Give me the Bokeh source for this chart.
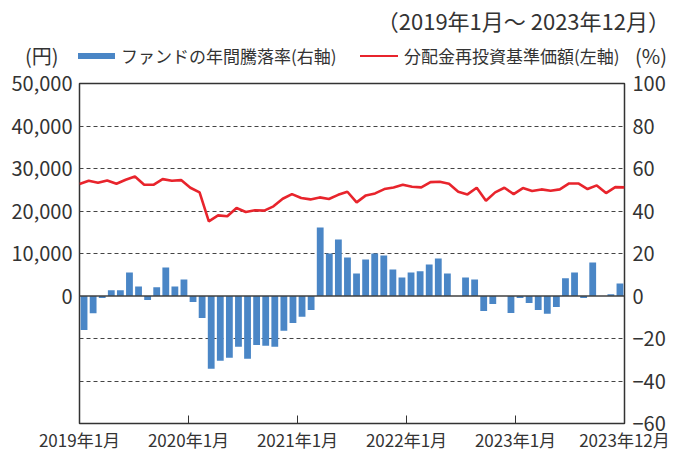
from bokeh.plotting import figure
from bokeh.models import Range1d, LinearAxis, FixedTicker, NumeralTickFormatter, Span, Div
from bokeh.layouts import column
from bokeh.embed import file_html
from bokeh.resources import INLINE

# ---------------- data ----------------
title_text = "（2019年1月～ 2023年12月）"
bar_name = "ファンドの年間騰落率(右軸)"
line_name = "分配金再投資基準価額(左軸)"
left_unit = "(円)"
right_unit = "(%)"

x_tick_pos = [0, 12, 24, 36, 48, 60]
x_tick_labels = ["2019年1月", "2020年1月", "2021年1月", "2022年1月", "2023年1月", "2023年12月"]
left_ticks = [0, 10000, 20000, 30000, 40000, 50000]
right_ticks = [-60, -40, -20, 0, 20, 40, 60, 80, 100]
grid_ticks = [-20000, -10000, 10000, 20000, 30000, 40000]

# monthly annual return of fund (%), Jan 2019 - Dec 2023
annual_return = [-16, -8.1, -0.9, 2.7, 2.7, 11.1, 4.5, -1.9, 4.1, 13.4, 4.5, 7.8,
                 -2.8, -10.3, -34.2, -30.5, -29.1, -23.9, -29.5, -23.0, -23.4, -23.9, -16.4, -12.7,
                 -9.8, -6.6, 32.2, 20.0, 26.6, 18.1, 10.6, 17.2, 20.0, 19.1, 12.5, 8.75,
                 11.1, 11.6, 14.8, 17.7, 10.6, 0, 8.75, 7.8, -7.0, -3.75, 0, -8.0,
                 -0.9, -3.3, -6.6, -8.4, -5.2, 8.3, 11.1, -0.9, 15.8, 0, 0.8, 5.9]

# NAV with dividends reinvested (yen), Jan 2019 - Dec 2023
nav = [26330, 27110, 26640, 27190, 26410, 27340, 28125, 26170, 26170, 27500, 27110, 27270,
       25470, 24375, 17580, 18980, 18750, 20700, 19770, 20160, 20080, 21090, 22890, 23980,
       23050, 22730, 23200, 22810, 23800, 24530, 22030, 23670, 24140, 25160, 25550, 26170,
       25700, 25550, 26800, 26875, 26410, 24530, 23900, 25470, 22420, 24375, 25470, 23980,
       25390, 24690, 25080, 24770, 25080, 26480, 26480, 25160, 26020, 24220, 25625, 25550]

# ---------------- styles / layout ----------------
FONT = "Noto Sans CJK JP"
TXT = "#333333"
BAR_C = "#4A86C6"
LINE_C = "#E8242C"

W = 670
HEAD_H = 64
MAIN_H = 454 - HEAD_H
TOP_BORDER = 83 - HEAD_H

n = len(annual_return)
bar_x = [i + 0.5 for i in range(n)]
line_x = [i * n / (len(nav) - 1) for i in range(len(nav))]

# ---------------- header (title + legend) ----------------
def span_text(text, left=None, right=None, top=0, size=17):
    pos = f"left:{left}px;" if left is not None else f"right:{right}px;"
    return (f'<span style="position:absolute;{pos}top:{top}px;font-size:{size}px;'
            f'line-height:1;white-space:nowrap;">{text}</span>')


def swatch(left, top, width, height, color):
    return (f'<span style="position:absolute;left:{left}px;top:{top}px;width:{width}px;'
            f'height:{height}px;background:{color};"></span>')


header_html = (
    f'<div style="position:relative;width:{W}px;height:{HEAD_H}px;'
    f"font-family:'{FONT}';color:{TXT};\">"
    + span_text(title_text, right=0, top=9, size=22)
    + span_text(left_unit, left=25, top=45.5, size=20)
    + swatch(78, 53, 37, 6, BAR_C)
    + span_text(bar_name, left=121, top=47, size=17)
    + swatch(360, 54.8, 38, 2.5, LINE_C)
    + span_text(line_name, left=404, top=47, size=17)
    + span_text(right_unit, left=635, top=45.5, size=20)
    + "</div>"
)
header = Div(text=header_html, width=W, height=HEAD_H,
             styles={"margin": "0", "padding": "0", "overflow": "visible"})

# ---------------- main chart ----------------
p = figure(width=W, height=MAIN_H, x_range=Range1d(0, n), y_range=Range1d(-30000, 50000),
           min_border_left=79, min_border_right=46, min_border_top=TOP_BORDER,
           min_border_bottom=29, toolbar_location=None, output_backend="svg")
p.extra_y_ranges = {"pct": Range1d(-60, 100)}
p.border_fill_alpha = 0.0

p.outline_line_color = "#333333"
p.outline_line_width = 1.5
p.xgrid.visible = False
p.ygrid.ticker = FixedTicker(ticks=grid_ticks)
p.ygrid.grid_line_color = "#444444"
p.ygrid.grid_line_dash = "4 3"
p.ygrid.grid_line_width = 1

p.vbar(x=bar_x, top=annual_return, width=0.75, fill_color=BAR_C, line_color=None,
       y_range_name="pct")
p.line(x=line_x, y=nav, line_color=LINE_C, line_width=2.6)

p.add_layout(Span(location=0, dimension="width", line_color="#404040", line_width=1.5))

# left axis
ya = p.yaxis[0]
ya.ticker = FixedTicker(ticks=left_ticks)
ya.formatter = NumeralTickFormatter(format="0,0")
ya.major_label_text_font = FONT
ya.major_label_text_font_size = "20px"
ya.major_label_text_color = TXT
ya.major_tick_in = 0
ya.major_tick_out = 0
ya.minor_tick_in = 0
ya.minor_tick_out = 0
ya.axis_line_color = None
ya.major_label_standoff = 7

# right axis
ra = LinearAxis(y_range_name="pct", ticker=FixedTicker(ticks=right_ticks))
ra.major_label_text_font = FONT
ra.major_label_text_font_size = "20px"
ra.major_label_text_color = TXT
ra.major_tick_in = 0
ra.major_tick_out = 0
ra.minor_tick_in = 0
ra.minor_tick_out = 0
ra.axis_line_color = None
ra.major_label_standoff = 8
p.add_layout(ra, "right")

# x axis
xa = p.xaxis[0]
xa.ticker = FixedTicker(ticks=x_tick_pos)
xa.major_label_overrides = {t: l for t, l in zip(x_tick_pos, x_tick_labels)}
xa.major_label_text_font = FONT
xa.major_label_text_font_size = "17px"
xa.major_label_text_color = TXT
xa.major_label_text_line_height = 0.9
xa.major_label_standoff = 3
xa.major_tick_in = 8
xa.major_tick_out = 0
xa.major_tick_line_color = "#333333"
xa.minor_tick_in = 0
xa.minor_tick_out = 0
xa.axis_line_color = None

layout = column(header, p, spacing=0)
open("out.html", "w").write(file_html(layout, INLINE))
